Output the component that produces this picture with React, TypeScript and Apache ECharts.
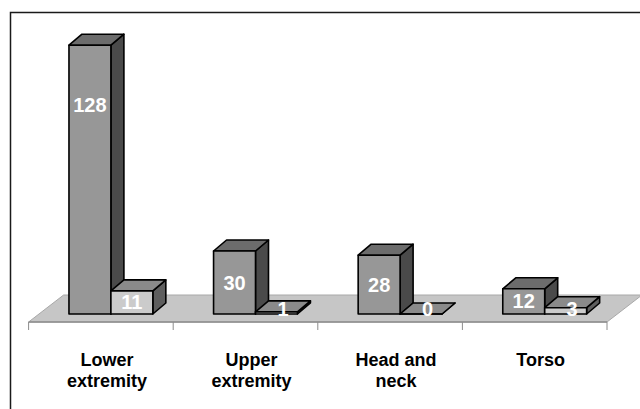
import React, { useEffect, useRef } from "react";
import * as echarts from "echarts";

const categories = ["Lower\nextremity", "Upper\nextremity", "Head and\nneck", "Torso"];
const seriesA = [128, 30, 28, 12];
const seriesB = [11, 1, 0, 3];

const DX = 13;
const DY = -11;

const faceColors = [
  { front: "#979797", top: "#6c6c6c", side: "#4a4a4a" },
  { front: "#cbcbcb", top: "#8a8a8a", side: "#5e5e5e" },
];

function makeBarRender(sIdx: number) {
  return (params: any, api: any) => {
    const idx = api.value(0);
    const v = api.value(1);
    const top = api.coord([idx, v]);
    const base = api.coord([idx, 0]);
    const band = api.size([1, 0])[0];
    const w = band * 0.29;
    const x0 = sIdx === 0 ? top[0] - w : top[0];
    const x1 = x0 + w;
    const yt = top[1];
    const yb = base[1];
    const c = faceColors[sIdx];
    const stroke = { stroke: "#000", lineWidth: 1.6, lineJoin: "round" };
    const h = yb - yt;
    let lx, ly;
    if (h >= 14) {
      lx = (x0 + x1) / 2;
      ly = Math.min(yt + h / 2, yt + 60);
    } else {
      lx = (x0 + x1) / 2 + DX / 2;
      ly = yb + DY / 2;
    }
    return {
      type: "group",
      children: [
        {
          type: "polygon",
          shape: { points: [[x1, yt], [x1 + DX, yt + DY], [x1 + DX, yb + DY], [x1, yb]] },
          style: { fill: c.side, ...stroke },
        },
        {
          type: "polygon",
          shape: { points: [[x0, yt], [x0 + DX, yt + DY], [x1 + DX, yt + DY], [x1, yt]] },
          style: { fill: c.top, ...stroke },
        },
        {
          type: "rect",
          shape: { x: x0, y: yt, width: w, height: Math.max(h, 0) },
          style: { fill: c.front, ...stroke },
        },
        {
          type: "text",
          x: lx,
          y: ly,
          z2: 10,
          style: {
            text: String(v),
            fill: "#ffffff",
            fontSize: 20,
            fontWeight: "bold",
            fontFamily: "Liberation Sans",
            align: "center",
            verticalAlign: "middle",
          },
        },
      ],
    };
  };
}

function floorRender(params: any, api: any) {
  const n = categories.length;
  const c0 = api.coord([0, 0]);
  const cN = api.coord([n - 1, 0]);
  const band = api.size([1, 0])[0];
  const left = c0[0] - band / 2;
  const right = cN[0] + band / 2;
  const base = c0[1];
  const fy = base + 8;
  const fdx = -10;
  const by = base - 19;
  const bdx = 25;
  const children: any[] = [
    {
      type: "polygon",
      shape: {
        points: [
          [left + fdx, fy],
          [right + fdx, fy],
          [right + bdx, by],
          [left + bdx, by],
        ],
      },
      style: { fill: "#c6c6c6", stroke: "#a8a8a8", lineWidth: 1 },
    },
    {
      type: "line",
      shape: { x1: left + fdx, y1: fy, x2: right + fdx, y2: fy },
      style: { stroke: "#8c8c8c", lineWidth: 1.5 },
    },
  ];
  for (let i = 0; i <= n; i++) {
    const x = left + i * band + fdx;
    children.push({
      type: "line",
      shape: { x1: x, y1: fy, x2: x, y2: fy + 8 },
      style: { stroke: "#8c8c8c", lineWidth: 1 },
    });
  }
  return { type: "group", children };
}

export default function App() {
  const ref = useRef<HTMLDivElement>(null);
  useEffect(() => {
    if (!ref.current) return;
    const chart = echarts.init(ref.current, undefined, { renderer: "svg" });
    chart.setOption({
      animation: false,
      backgroundColor: "#ffffff",
      grid: { left: 38.6, right: 23, top: 20, bottom: 95 },
      xAxis: {
        type: "category",
        data: categories,
        axisLine: { show: false },
        axisTick: { show: false },
        splitLine: { show: false },
        axisLabel: {
          interval: 0,
          margin: 35,
          fontSize: 18,
          lineHeight: 21,
          fontWeight: "bold",
          fontFamily: "Liberation Sans",
          color: "#000",
          padding: [0, 8, 0, 0],
        },
      },
      yAxis: { type: "value", min: 0, max: 140, show: false },
      graphic: [
        {
          type: "rect",
          shape: { x: 10.5, y: 12.5, width: 700, height: 500 },
          style: { fill: "none", stroke: "#1a1a1a", lineWidth: 1.5 },
          silent: true,
        },
      ],
      series: [
        {
          type: "custom",
          renderItem: floorRender,
          data: [[0, 0]],
          encode: { x: 0, y: 1 },
          z: 1,
          silent: true,
        },
        {
          type: "custom",
          renderItem: makeBarRender(0),
          data: seriesA.map((v, i) => [i, v]),
          encode: { x: 0, y: 1 },
          z: 2,
        },
        {
          type: "custom",
          renderItem: makeBarRender(1),
          data: seriesB.map((v, i) => [i, v]),
          encode: { x: 0, y: 1 },
          z: 3,
        },
      ],
    });
    return () => chart.dispose();
  }, []);
  return (
    <div
      ref={ref}
      style={{ position: "fixed", left: 0, top: 0, width: 640, height: 409 }}
    />
  );
}
